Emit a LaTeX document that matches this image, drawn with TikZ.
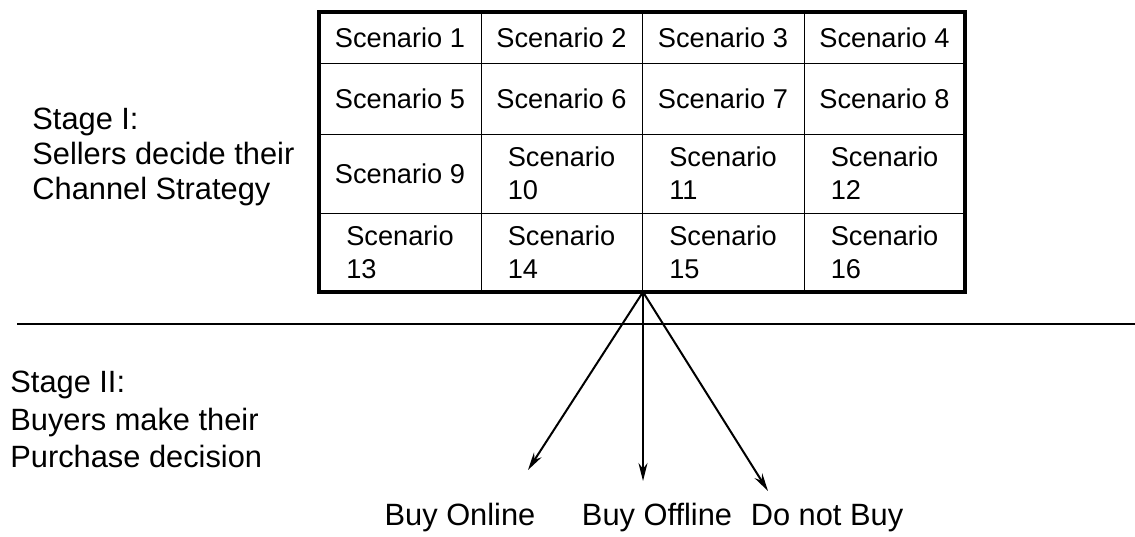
\documentclass[tikz,border=0pt]{standalone}
\usepackage{fontspec}
\setmainfont{Liberation Sans}
\usetikzlibrary{positioning,arrows.meta}

\begin{document}
\begin{tikzpicture}[
    x=0.5pt, y=-0.5pt,
    >={Stealth[length=9pt,width=4.5pt]},
    cell/.style={font=\fontsize{13.6}{16.5}\selectfont, align=left, inner sep=0pt},
    stage/.style={font=\fontsize{15.4}{17.5}\selectfont, align=left, anchor=west, inner sep=0pt},
    choice/.style={font=\fontsize{15.4}{18}\selectfont, inner sep=0pt}
]
\useasboundingbox (0,0) rectangle (1135,536);

% Stage I: grid of scenarios
\foreach \r/\y in {0/37.5,1/98.5,2/173.5,3/252.5} {
    \foreach \c in {0,...,3} {
        \pgfmathtruncatemacro\n{4*\r+\c+1}
        \ifnum\n<10
            \node[cell] (s\n) at (400+161.5*\c, \y) {Scenario \n};
        \else
            \node[cell] (s\n) at (400+161.5*\c, \y) {Scenario\\\n};
        \fi
    }
}
\foreach \x in {481,642,804}
    \draw[line width=0.5pt] (\x,12) -- (\x,292);
\foreach \y in {63,134,213}
    \draw[line width=0.5pt] (319,\y) -- (965,\y);
\draw[line width=1.6pt] (319,12) rectangle (965,292);

\node[stage] (stage1) at (32,157) {Stage I:\\Sellers decide their\\Channel Strategy};

% divider between stages
\draw[line width=0.7pt] (17,324) -- (1135,324);

% Stage II: buyer choices
\node[stage, font=\fontsize{15.4}{18.7}\selectfont] (stage2) at (10,419.5) {Stage II:\\Buyers make their\\Purchase decision};

\coordinate (src) at (643,292);
\coordinate (tonl) at (528,470);
\coordinate (toff) at (643,481);
\coordinate (tnot) at (768,491);
\draw[->, line width=1pt] (src) -- (tonl);
\draw[->, line width=1pt] (src) -- (toff);
\draw[->, line width=1pt] (src) -- (tnot);

\node[choice] (online) at (460,518) {Buy Online};
\node[choice] (offline) at (657,518) {Buy Offline};
\node[choice] (nobuy) at (827,518) {Do not Buy};
\end{tikzpicture}
\end{document}
